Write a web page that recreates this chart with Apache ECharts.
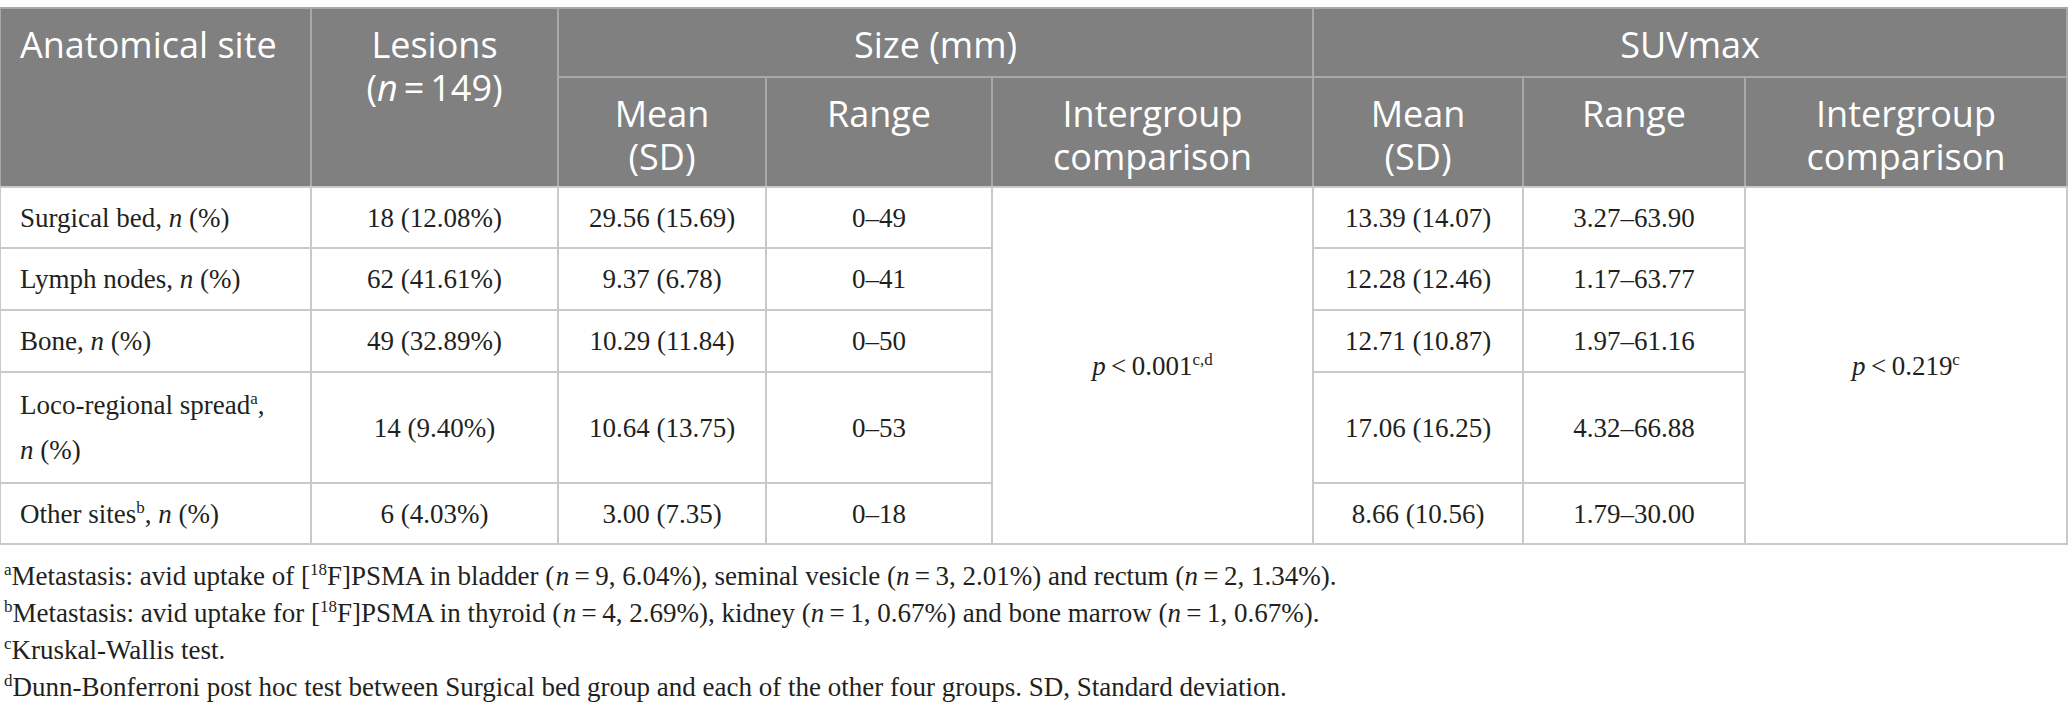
<!DOCTYPE html>
<html>
<head>
<meta charset="utf-8">
<script src="https://cdn.jsdelivr.net/npm/echarts@6/dist/echarts.min.js"></script>
<style>
html, body { margin: 0; padding: 0; background: #fff; }
#main { width: 2068px; height: 713px; }
</style>
</head>
<body>
<div id="main"></div>
<script>
// table content
var sites     = ['Surgical bed', 'Lymph nodes', 'Bone', 'Loco-regional spread', 'Other sites'];
var siteNotes = ['', '', '', 'a', 'b'];
var lesions   = ['18 (12.08%)', '62 (41.61%)', '49 (32.89%)', '14 (9.40%)', '6 (4.03%)'];
var sizeMean  = ['29.56 (15.69)', '9.37 (6.78)', '10.29 (11.84)', '10.64 (13.75)', '3.00 (7.35)'];
var sizeRange = ['0–49', '0–41', '0–50', '0–53', '0–18'];
var suvMean   = ['13.39 (14.07)', '12.28 (12.46)', '12.71 (10.87)', '17.06 (16.25)', '8.66 (10.56)'];
var suvRange  = ['3.27–63.90', '1.17–63.77', '1.97–61.16', '4.32–66.88', '1.79–30.00'];
var pValues   = ['0.001', '0.219'];
var pNotes    = ['c,d', 'c'];
var totalN    = 149;
var footNotes = [
  '{s|a}Metastasis: avid uptake of [{s|18}F]PSMA in bladder ({i|n}\u2009=\u20099, 6.04%), seminal vesicle ({i|n}\u2009=\u20093, 2.01%) and rectum ({i|n}\u2009=\u20092, 1.34%).',
  '{s|b}Metastasis: avid uptake for [{s|18}F]PSMA in thyroid ({i|n}\u2009=\u20094, 2.69%), kidney ({i|n}\u2009=\u20091, 0.67%) and bone marrow ({i|n}\u2009=\u20091, 0.67%).',
  '{s|c}Kruskal-Wallis test.',
  '{s|d}Dunn-Bonferroni post hoc test between Surgical bed group and each of the other four groups. SD, Standard deviation.'
];

// layout
var W = 2068, H = 713;
var colX = [0, 311, 558, 766, 992, 1313, 1523, 1745, 2067];
var rowY = [8, 77, 187, 248, 310, 372, 483, 544];
var footY = 576, footStep = 37;
var serif = '"Liberation Serif", "Times New Roman", serif';
var sans = '"Open Sans", "Noto Sans", sans-serif';
var ink = '#231f20';

var richBody = {
  i: { fontFamily: serif, fontSize: 27, fontStyle: 'italic', fill: ink, lineHeight: 45, verticalAlign: 'middle' },
  s: { fontFamily: serif, fontSize: 17, fill: ink, lineHeight: 17, padding: [0, 0, 13, 0], verticalAlign: 'middle' }
};
var richHead = {
  i: { fontFamily: sans, fontSize: 36, fontStyle: 'italic', fill: '#fff', lineHeight: 43 }
};
var richFoot = {
  i: { fontFamily: serif, fontSize: 27, fontStyle: 'italic', fill: ink, lineHeight: 40, verticalAlign: 'middle' },
  s: { fontFamily: serif, fontSize: 17, fill: ink, lineHeight: 17, padding: [0, 0, 13, 0], verticalAlign: 'middle' }
};

var cells = [];
function cell(c0, c1, r0, r1, text, type) {
  cells.push({ value: [colX[c0], colX[c1], rowY[r0], rowY[r1]], text: text, type: type });
}

// header
cell(0, 1, 0, 2, 'Anatomical site', 'hl');
cell(1, 2, 0, 2, 'Lesions\n({i|n}\u2009=\u2009' + totalN + ')', 'hc');
cell(2, 5, 0, 1, 'Size (mm)', 'hc');
cell(5, 8, 0, 1, 'SUVmax', 'hc');
cell(2, 3, 1, 2, 'Mean\n(SD)', 'hc');
cell(3, 4, 1, 2, 'Range', 'hc');
cell(4, 5, 1, 2, 'Intergroup\ncomparison', 'hc');
cell(5, 6, 1, 2, 'Mean\n(SD)', 'hc');
cell(6, 7, 1, 2, 'Range', 'hc');
cell(7, 8, 1, 2, 'Intergroup\ncomparison', 'hc');

// body
for (var i = 0; i < sites.length; i++) {
  var r = 2 + i;
  var sup = siteNotes[i] ? '{s|' + siteNotes[i] + '}' : '';
  var brk = sites[i].length > 15 ? '\n' : ' ';
  cell(0, 1, r, r + 1, sites[i] + sup + ',' + brk + '{i|n} (%)', 'bl');
  cell(1, 2, r, r + 1, lesions[i], 'bc');
  cell(2, 3, r, r + 1, sizeMean[i], 'bc');
  cell(3, 4, r, r + 1, sizeRange[i], 'bc');
  cell(5, 6, r, r + 1, suvMean[i], 'bc');
  cell(6, 7, r, r + 1, suvRange[i], 'bc');
}
cell(4, 5, 2, 7, '{i|p}\u2009<\u2009' + pValues[0] + '{s|' + pNotes[0] + '}', 'bc');
cell(7, 8, 2, 7, '{i|p}\u2009<\u2009' + pValues[1] + '{s|' + pNotes[1] + '}', 'bc');

function renderCell(params, api) {
  var c = cells[params.dataIndex];
  var p0 = api.coord([api.value(0), api.value(2)]);
  var p1 = api.coord([api.value(1), api.value(3)]);
  var head = c.type.charAt(0) === 'h';
  var left = c.type.charAt(1) === 'l';
  return {
    type: 'group',
    children: [{
      type: 'rect',
      shape: { x: p0[0], y: p0[1], width: p1[0] - p0[0], height: p1[1] - p0[1] },
      style: { fill: head ? '#808080' : '#fff', stroke: head ? '#a8a8a8' : '#c9c9c9', lineWidth: 2 }
    }, {
      type: 'text',
      x: left ? p0[0] + 20 : (p0[0] + p1[0]) / 2,
      y: head ? p0[1] + 15 : (p0[1] + p1[1]) / 2,
      style: {
        text: c.text,
        align: left ? 'left' : 'center',
        verticalAlign: head ? 'top' : 'middle',
        fontFamily: head ? sans : serif,
        fontSize: head ? 36 : 27,
        lineHeight: head ? 43 : 45,
        fill: head ? '#fff' : ink,
        rich: head ? richHead : richBody
      }
    }]
  };
}

function renderFoot(params, api) {
  var p = api.coord([api.value(0), api.value(1)]);
  return {
    type: 'text',
    x: p[0],
    y: p[1],
    style: {
      text: footNotes[params.dataIndex],
      align: 'left',
      verticalAlign: 'middle',
      fontFamily: serif,
      fontSize: 27,
      lineHeight: 40,
      fill: ink,
      rich: richFoot
    }
  };
}

var chart = echarts.init(document.getElementById('main'), null, { renderer: 'svg' });
chart.setOption({
  animation: false,
  grid: { left: 0, right: 0, top: 0, bottom: 0 },
  xAxis: { type: 'value', min: 0, max: W, show: false },
  yAxis: { type: 'value', min: 0, max: H, inverse: true, show: false },
  series: [{
    type: 'custom',
    renderItem: renderCell,
    data: cells.map(function (c) { return c.value; })
  }, {
    type: 'custom',
    renderItem: renderFoot,
    data: footNotes.map(function (t, k) { return [4, footY + k * footStep]; })
  }]
});
</script>
</body>
</html>
